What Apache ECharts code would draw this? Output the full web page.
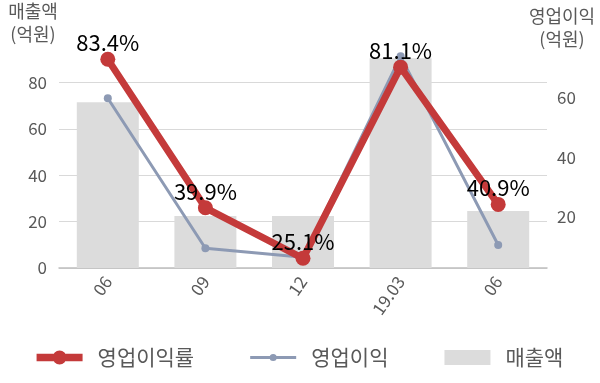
<!DOCTYPE html>
<html>
<head>
<meta charset="utf-8">
<script src="https://cdn.jsdelivr.net/npm/echarts@6/dist/echarts.min.js"></script>
<style>
  html, body { margin: 0; padding: 0; background: #fff; }
  #chart { width: 600px; height: 383px; }
</style>
</head>
<body>
<div id="chart"></div>
<script>
// 분기 라벨
var categories = ['06', '09', '12', '19.03', '06']
// 매출액 (억원) - 왼쪽 축
var sales = [71.4, 22.4, 22.4, 90.4, 24.6]
// 영업이익 (억원) - 오른쪽 축
var opProfit = [59.9, 9.5, 6.5, 74, 10.6]
// 영업이익률 (%) - 숨김 축
var opMargin = [83.4, 39.9, 25.1, 81.1, 40.9]

var textColor = '#595959'
var fontFamily = '"Noto Sans CJK KR", "Noto Sans", sans-serif'
var red = '#c43a3a'
var blueGray = '#8d9ab4'

// 범례 아이콘 (굵은 선 + 점)
var redIcon = 'path://M0,3.5 H50 V11.5 H0 Z M17.5,7.5 A7.5,7.5 0 1,1 32.5,7.5 A7.5,7.5 0 1,1 17.5,7.5 Z'
var grayIcon = 'path://M0,2 H45 V5 H0 Z M19,3.5 A3.5,3.5 0 1,1 26,3.5 A3.5,3.5 0 1,1 19,3.5 Z'

var chart = echarts.init(document.getElementById('chart'))

chart.setOption({
  animation: false,
  textStyle: { fontFamily: fontFamily },
  title: [
    {
      text: '매출액\n(억원)',
      left: 33,
      top: 0,
      padding: 0,
      textAlign: 'center',
      textStyle: { fontSize: 18, lineHeight: 23, fontWeight: 'normal', color: textColor, fontFamily: fontFamily }
    },
    {
      text: '영업이익\n(억원)',
      left: 562,
      top: 5,
      padding: 0,
      textAlign: 'center',
      textStyle: { fontSize: 18, lineHeight: 23, fontWeight: 'normal', color: textColor, fontFamily: fontFamily }
    }
  ],
  legend: {
    data: [
      { name: '영업이익률', icon: redIcon, itemStyle: { color: red } },
      { name: '영업이익', icon: grayIcon, itemStyle: { color: blueGray } },
      { name: '매출액', icon: 'rect', itemStyle: { color: '#dcdcdc' } }
    ],
    left: 'center',
    top: 342,
    itemWidth: 46,
    itemHeight: 15,
    itemGap: 56,
    symbolKeepAspect: true,
    textStyle: { fontSize: 21, color: textColor, padding: [0, 0, 0, 10] }
  },
  grid: { left: 59, right: 53, top: 36, bottom: 115 },
  xAxis: {
    type: 'category',
    data: categories,
    axisTick: { show: false },
    axisLine: { lineStyle: { color: '#bfbfbf', width: 1.5 } },
    axisLabel: { rotate: 55, fontSize: 17, color: textColor, margin: 10 }
  },
  yAxis: [
    {
      type: 'value',
      min: 0,
      max: 100,
      interval: 20,
      axisLine: { show: false },
      axisTick: { show: false },
      axisLabel: {
        fontSize: 17, color: textColor, margin: 12,
        formatter: function (v) { return v === 100 ? '' : v }
      },
      splitLine: { showMaxLine: false, lineStyle: { color: '#d9d9d9' } }
    },
    {
      type: 'value',
      min: 2.86,
      max: 80.84,
      axisLine: { show: false },
      axisTick: { show: false },
      splitLine: { show: false },
      axisLabel: {
        fontSize: 17, color: textColor, margin: 10,
        showMinLabel: false, showMaxLabel: false,
        formatter: function (v) { return (v >= 20 && v <= 60 && v % 20 === 0) ? v : '' }
      }
    },
    {
      type: 'value',
      show: false,
      min: 22.26,
      max: 90.23
    }
  ],
  series: [
    {
      name: '매출액',
      type: 'bar',
      yAxisIndex: 0,
      barWidth: 62,
      itemStyle: { color: '#dcdcdc' },
      data: sales
    },
    {
      name: '영업이익',
      type: 'line',
      yAxisIndex: 1,
      symbol: 'circle',
      symbolSize: 8,
      lineStyle: { color: blueGray, width: 3 },
      itemStyle: { color: blueGray },
      data: opProfit
    },
    {
      name: '영업이익률',
      type: 'line',
      yAxisIndex: 2,
      symbol: 'circle',
      symbolSize: 15,
      lineStyle: { color: red, width: 7 },
      itemStyle: { color: red },
      label: {
        show: true,
        position: 'top',
        distance: -2,
        fontSize: 22,
        color: '#000',
        formatter: '{c}%'
      },
      data: opMargin
    }
  ]
})
</script>
</body>
</html>
